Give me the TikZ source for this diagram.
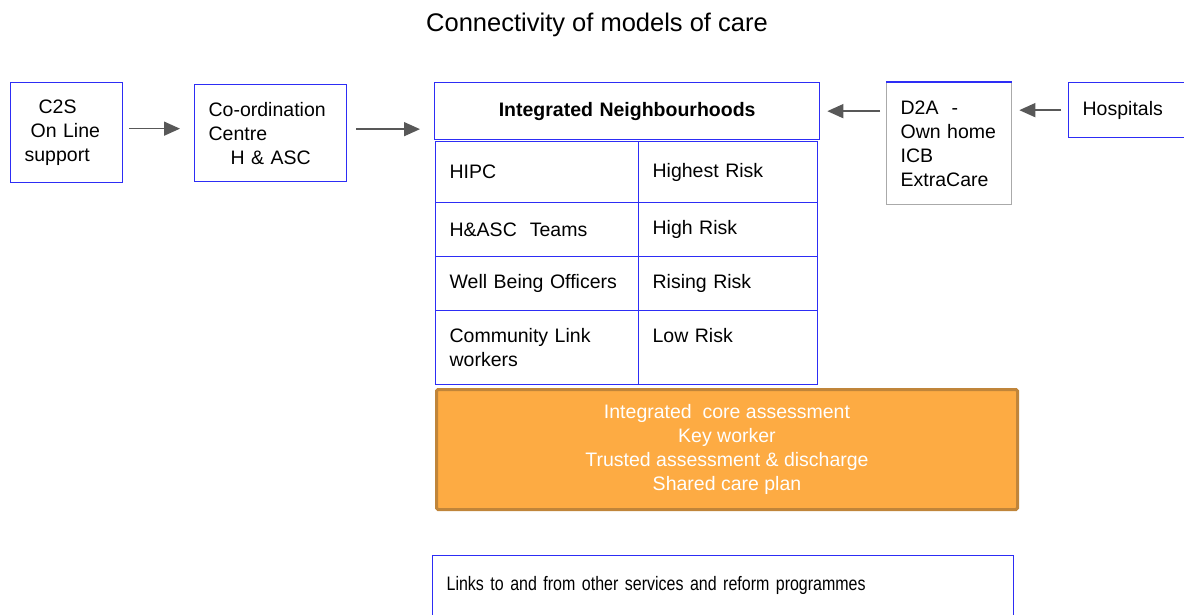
\documentclass[tikz,border=0pt]{standalone}
\usepackage{fontspec}
\setmainfont{Liberation Sans}
\newfontfamily\narrowfont[FakeStretch=0.82]{Liberation Sans}
\usetikzlibrary{arrows.meta}

\definecolor{boxblue}{RGB}{45,45,245}
\definecolor{boxgrey}{RGB}{170,170,170}
\definecolor{arrowgrey}{RGB}{88,88,88}
\definecolor{coreorange}{RGB}{253,171,67}
\definecolor{coreedge}{RGB}{192,133,58}

\begin{document}
\begin{tikzpicture}[x=1pt, y=-1pt,
  every node/.style={font=\fontsize{19.5}{24}\selectfont},
  box/.style={draw=boxblue, line width=1.3pt, anchor=north west, inner xsep=14pt, inner ysep=0pt, align=left},
  leftcell/.style={box, text width=175pt},
  rightcell/.style={box, text width=151pt},
  flow/.style={draw=arrowgrey, line width=1.5pt, -{Triangle[length=16pt, width=14pt]}}]
  \useasboundingbox (0,0) rectangle (1184,614);

  % Title
  \node (title) at (597,25) {\fontsize{25.5}{30}\selectfont Connectivity of models of care};

  % Entry points on the left
  \node[box, text width=84pt, minimum height=100pt] (c2s) at (10,82) {\hspace{14pt}C2S\\\hspace{6pt}On Line\\support};
  \node[box, text width=124pt, minimum height=97pt] (coord) at (194,84) {Co-ordination\\Centre\\\hspace{22pt}H \& ASC};

  % Neighbourhood header and team / risk table
  \node[box, align=center, text width=357pt, minimum height=57pt] (hood) at (434,82) {\textbf{Integrated Neighbourhoods}};

  \node[leftcell, minimum height=61pt] (hipc) at (435,141) {HIPC};
  \node[rightcell, minimum height=61pt] (highest) at (638,141) {Highest Risk};
  \node[leftcell, minimum height=54pt] (teams) at (435,202) {H\&ASC\ \ Teams};
  \node[rightcell, minimum height=54pt] (high) at (638,202) {High Risk};
  \node[leftcell, minimum height=54pt] (wellbeing) at (435,256) {Well Being Officers};
  \node[rightcell, minimum height=54pt] (rising) at (638,256) {Rising Risk};
  \node[leftcell, minimum height=74pt] (community) at (435,310) {Community Link\\workers};
  \node[rightcell, minimum height=74pt] (low) at (638,310) {Low Risk\\\mbox{}};

  % Shared core offer
  \node[anchor=north west, draw=coreedge, fill=coreorange, line width=3pt, rounded corners=1.5pt,
        minimum width=581pt, minimum height=120pt, align=center, text=white] (core) at (435,388)
    {Integrated\ \ core assessment\\Key worker\\Trusted assessment \& discharge\\Shared care plan};

  % Wider links, runs off the bottom edge
  \node[box, text width=553pt, minimum height=80pt, font=\narrowfont\fontsize{19.5}{24}\selectfont] (links) at (432,555)
    {Links to and from other services and reform programmes\\\mbox{}};

  % Discharge route on the right
  \node[box, draw=boxgrey, text width=97pt, minimum height=122pt] (d2a) at (886,82) {D2A\ \ -\\Own home\\ICB\\ExtraCare};
  \draw[boxblue, line width=1.3pt] (d2a.north west) -- (d2a.north east);
  \node[box, text width=94pt, minimum height=55pt] (hospitals) at (1068,82) {Hospitals};

  % Arrows
  \draw[flow, shorten <=6pt, shorten >=14pt] ([yshift=4pt]c2s.east) -- ([yshift=4pt]c2s.east -| coord.west);
  \draw[flow, shorten <=9pt, shorten >=14pt] ([yshift=4pt]coord.east) -- ([yshift=4pt]coord.east -| hood.west);
  \draw[flow, shorten <=6pt, shorten >=7pt] (d2a.west |- hood.east) -- (hood.east);
  \draw[flow, shorten <=7pt, shorten >=7pt] (hospitals.west) -- (hospitals.west -| d2a.east);
\end{tikzpicture}
\end{document}
